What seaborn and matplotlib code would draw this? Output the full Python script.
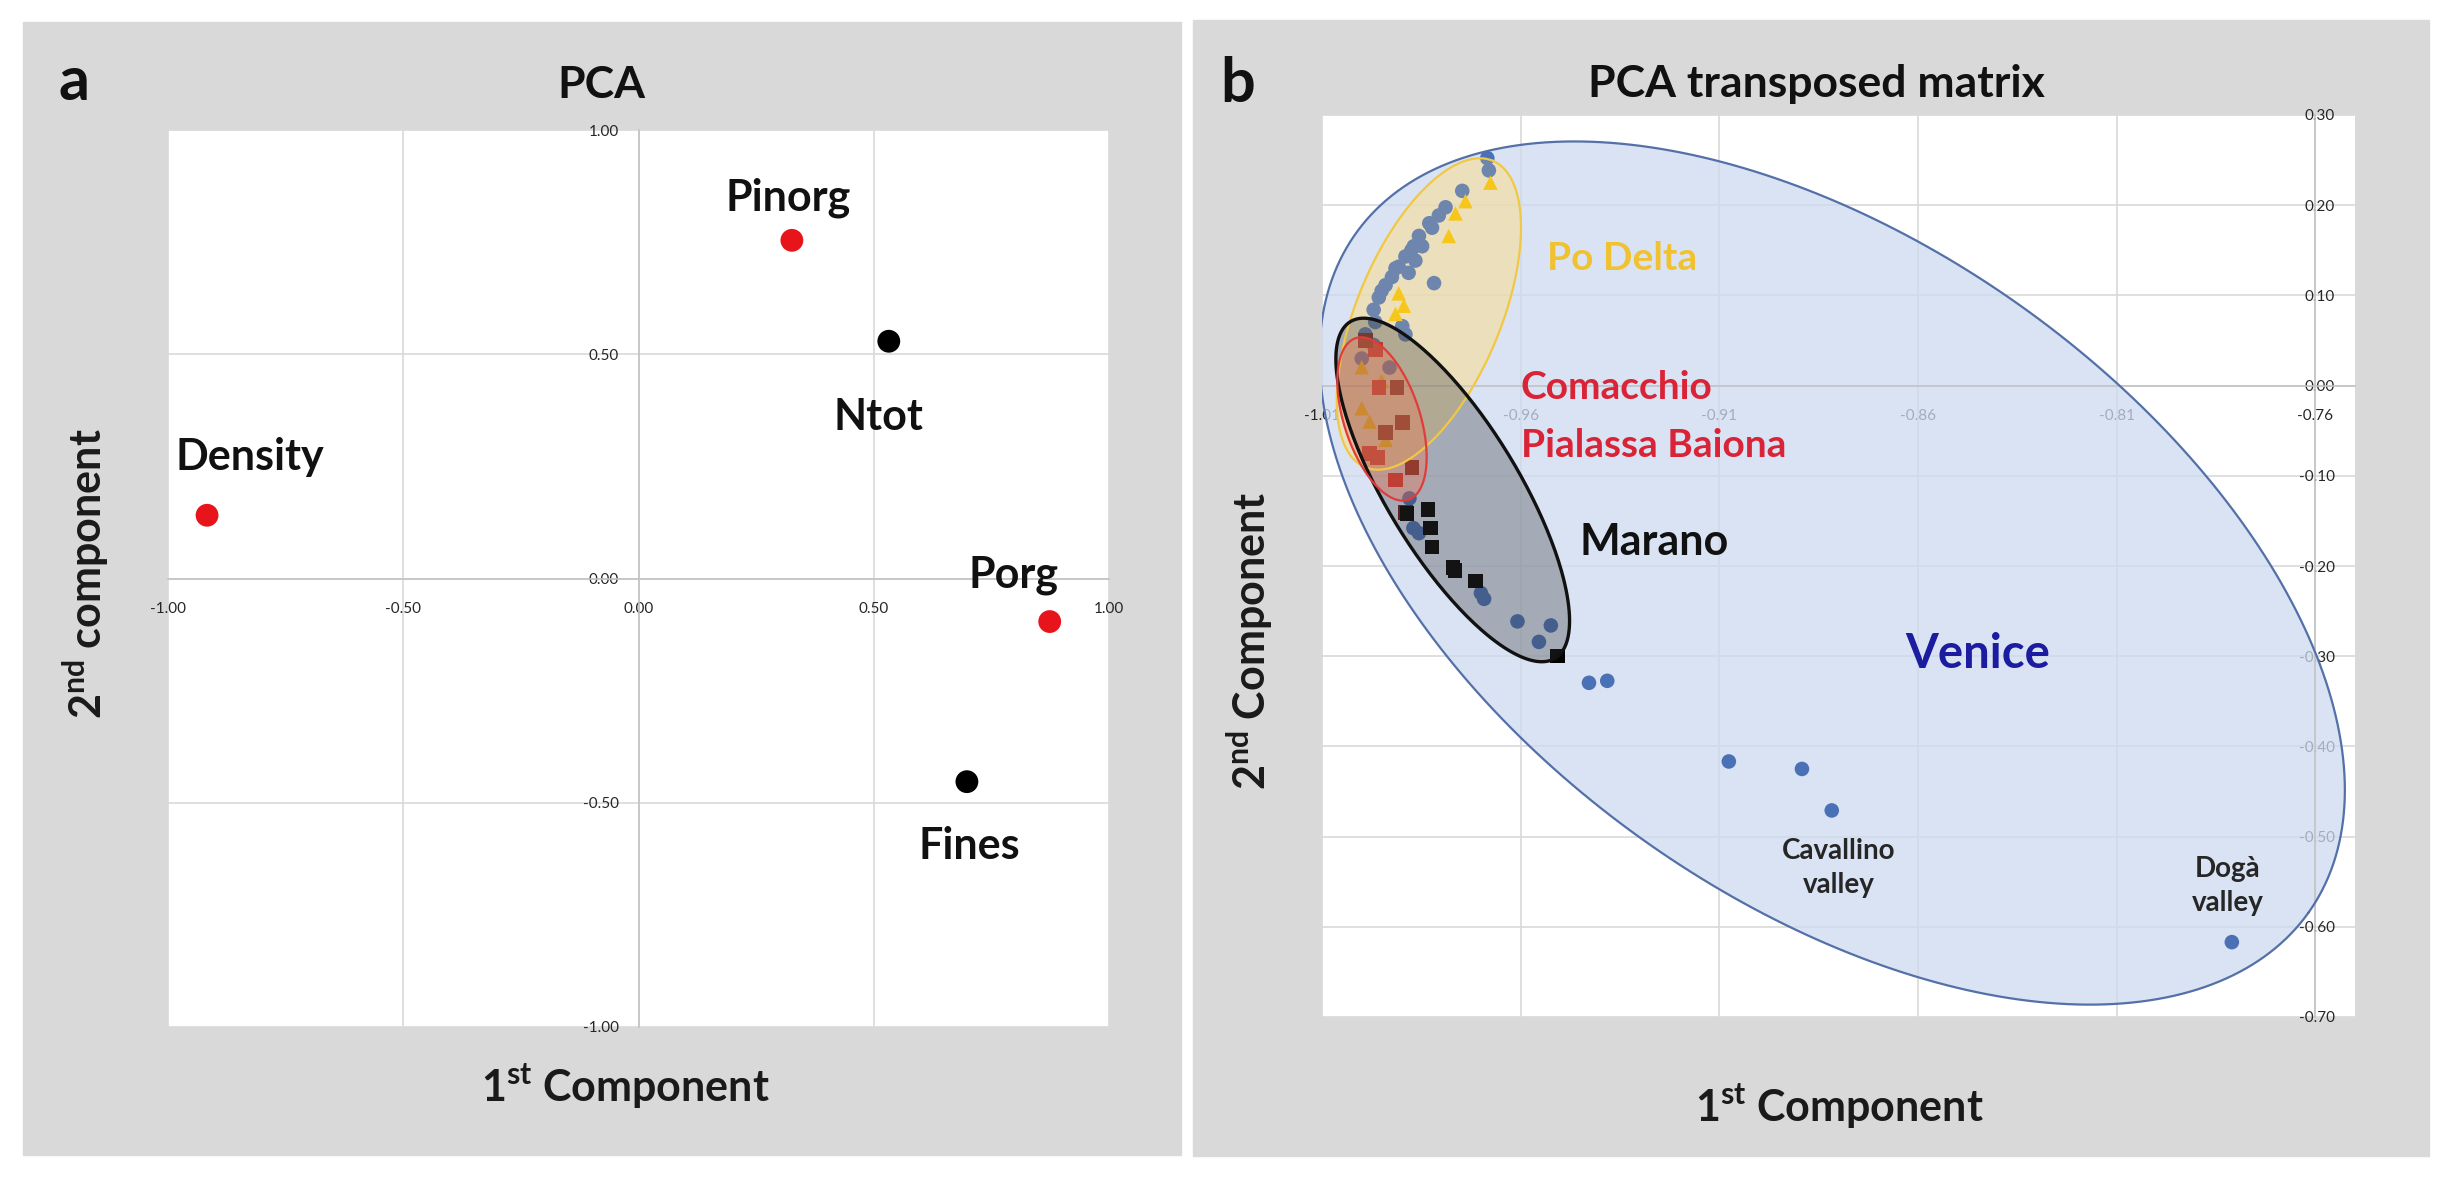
import numpy as np
import pandas as pd
import seaborn as sns
import matplotlib.pyplot as plt
from matplotlib.patches import Rectangle

# ---- panel a: PCA loadings ----
vars_a = ["Density", "Pinorg", "Ntot", "Porg", "Fines"]
pc1_a = [-0.917, 0.326, 0.532, 0.874, 0.698]
pc2_a = [0.141, 0.754, 0.529, -0.096, -0.453]
kind_a = ["red", "red", "black", "red", "black"]
lab_x_a = [-0.826, 0.318, 0.509, 0.798, 0.704]
lab_y_a = [0.271, 0.849, 0.360, 0.007, -0.596]
ticks_a = [-1.0, -0.5, 0.0, 0.5, 1.0]
ticklabels_a = ["-1.00", "-0.50", "0.00", "0.50", "1.00"]

# ---- panel b: PCA of transposed matrix ----
venice_x = [-0.9684, -0.9680, -0.9747, -0.9789, -0.9806, -0.9823, -0.9856, -0.9869,
            -0.9848, -0.9890, -0.9865, -0.9907, -0.9882, -0.9818, -0.9924, -0.9940,
            -0.9957, -0.9970, -0.9966, -0.9898, -0.9890, -0.9991, -1.0000, -0.9970,
            -0.9930, -0.9856, -0.9870, -0.9880, -0.9692, -0.9700, -0.9608, -0.9524,
            -0.9554, -0.9428, -0.9382, -0.9076, -0.8892, -0.8817, -0.7810,
            -0.9830, -0.9875, -0.9915, -0.9950]
venice_y = [0.2522, 0.2386, 0.2159, 0.1977, 0.1886, 0.1750, 0.1659, 0.1545,
            0.1545, 0.1432, 0.1386, 0.1318, 0.1250, 0.1136, 0.1204, 0.1114,
            0.0977, 0.0841, 0.0705, 0.0659, 0.0568, 0.0568, 0.0300, 0.0450,
            0.0200, -0.1636, -0.1580, -0.1250, -0.2364, -0.2300, -0.2614, -0.2659,
            -0.2841, -0.3295, -0.3273, -0.4167, -0.4250, -0.4710, -0.6170,
            0.1800, 0.1500, 0.1300, 0.1050]
podelta_x = [-0.9676, -0.9739, -0.9764, -0.9781, -0.9907, -0.9894, -0.9915,
             -1.0000, -0.9950, -1.0000, -0.9940, -0.9980]
podelta_y = [0.2250, 0.2045, 0.1909, 0.1659, 0.1023, 0.0886, 0.0795,
             0.0205, 0.0050, -0.0250, -0.0600, -0.0400]
comacchio_x = [-0.9966, -0.9957, -0.9980, -0.9915, -0.9960]
comacchio_y = [0.0400, -0.0023, -0.0750, -0.1045, -0.0800]
pialassa_x = [-0.9991, -0.9911, -0.9898, -0.9940, -0.9873, -0.9890]
pialassa_y = [0.0500, -0.0023, -0.0410, -0.0520, -0.0909, -0.1410]
marano_x = [-0.9886, -0.9833, -0.9827, -0.9823, -0.9770, -0.9765, -0.9714, -0.9507]
marano_y = [-0.1417, -0.1375, -0.1580, -0.1790, -0.2017, -0.2050, -0.2167, -0.3000]

xticks_b = [-1.01, -0.96, -0.91, -0.86, -0.81, -0.76]
xticklabels_b = ["-1.01", "-0.96", "-0.91", "-0.86", "-0.81", "-0.76"]
yticks_b = [0.3, 0.2, 0.1, 0.0, -0.1, -0.2, -0.3, -0.4, -0.5, -0.6, -0.7]
yticklabels_b = ["0.30", "0.20", "0.10", "0.00", "-0.10", "-0.20", "-0.30",
                 "-0.40", "-0.50", "-0.60", "-0.70"]

# group ellipses: centre in data units, semi axes in pixels, angle in degrees
# (fa = alpha of the fill under the points, ta = alpha of a tint over them)
ellipses = {
    "Venice": dict(c=(-0.8816, -0.2078), a=585, b=327, ang=-35.5,
                   fc="#cedaef", fa=0.75, ta=0, ec="#5470a8", lw=1.6),
    "Po Delta": dict(c=(-0.9831, 0.0794), a=166, b=72, ang=67.4,
                     fc="#ffe08a", fa=0.4, ta=0.2, ec="#f0c844", lw=1.6),
    "Marano": dict(c=(-0.9771, -0.1157), a=197, b=66, ang=-58.7,
                   fc="#3a3a3a", fa=0, ta=0.33, ec="#111111", lw=2.4),
    "Comacchio": dict(c=(-0.9949, -0.0370), a=85, b=38, ang=-72,
                      fc="#f07050", fa=0, ta=0.35, ec="#e03c3c", lw=1.6),
}

sns.set_theme(style="white")
plt.rcParams['font.family'] = ['Lato', 'DejaVu Sans']
plt.rcParams['mathtext.fontset'] = 'custom'
plt.rcParams['mathtext.rm'] = 'Lato'
plt.rcParams['mathtext.bf'] = 'Lato:bold'

W, H = 2451, 1183
fig = plt.figure(figsize=(W / 100, H / 100), dpi=100, facecolor="white")

# grey panel backgrounds
for (x0, y0, x1, y1) in [(23, 22, 1181, 1155), (1193, 20, 2429, 1156)]:
    fig.add_artist(Rectangle((x0 / W, 1 - y1 / H), (x1 - x0) / W, (y1 - y0) / H,
                             transform=fig.transFigure, color="#d9d9d9", zorder=0))

tick_font = dict(fontfamily="Liberation Serif", fontsize=15, color="#8a8a8a")
grid_kw = dict(color="#d9d9d9", lw=1.2)

# ---------------- panel a ----------------
ax = fig.add_axes([168 / W, 1 - 1027 / H, 941 / W, 897 / H])
df_a = pd.DataFrame({"pc1": pc1_a, "pc2": pc2_a, "kind": kind_a})
sns.scatterplot(data=df_a, x="pc1", y="pc2", hue="kind",
                palette={"red": "#e8141c", "black": "#000000"},
                s=270, edgecolor="none", legend=False, ax=ax, zorder=3)
for name, lx, ly in zip(vars_a, lab_x_a, lab_y_a):
    ax.text(lx, ly, name, ha="center", va="center", fontsize=31,
            fontweight="bold", color="#111111", zorder=5)
ax.set_xlim(-1, 1)
ax.set_ylim(-1, 1)
ax.set_xticks(ticks_a, ticklabels_a, **tick_font)
ax.set_yticks(ticks_a, ticklabels_a, **tick_font)
ax.grid(True, **grid_kw)
for s in ["top", "right"]:
    ax.spines[s].set_visible(False)
ax.spines["left"].set_position(("data", 0))
ax.spines["bottom"].set_position(("data", 0))
for s in ["left", "bottom"]:
    ax.spines[s].set_color("#c4c4c4")
    ax.spines[s].set_linewidth(1.2)
ax.tick_params(axis="x", length=0, pad=17)
ax.tick_params(axis="y", length=0, pad=14)
ax.set_xlabel(r"1$^{\mathbf{st}}$ Component", fontsize=31, fontweight="bold",
              color="#1a1a1a", va="center")
ax.set_ylabel(r"2$^{\mathbf{nd}}$ component", fontsize=31, fontweight="bold",
              color="#1a1a1a", va="center")
ax.xaxis.set_label_coords((625 - 168) / 941, (1027 - 1087) / 897)
ax.yaxis.set_label_coords((86 - 168) / 941, (1027 - 574) / 897)

# ---------------- panel b ----------------
bx = fig.add_axes([1322 / W, 1 - 1017 / H, 1033 / W, 902 / H])
xlim_b = (-1.01, -0.75)
ylim_b = (-0.70, 0.30)
bx.set_xlim(*xlim_b)
bx.set_ylim(*ylim_b)
sx = 1033 / (xlim_b[1] - xlim_b[0])
sy = 902 / (ylim_b[1] - ylim_b[0])

t = np.linspace(0, 2 * np.pi, 300)
for name, e in ellipses.items():
    th = np.deg2rad(e["ang"])
    u = e["a"] * np.cos(t)
    v = e["b"] * np.sin(t)
    ex = e["c"][0] + (u * np.cos(th) - v * np.sin(th)) / sx
    ey = e["c"][1] + (u * np.sin(th) + v * np.cos(th)) / sy
    if e["fa"] > 0:
        bx.fill(ex, ey, color=e["fc"], alpha=e["fa"], lw=0, zorder=1.5)
    if e["ta"] > 0:
        bx.fill(ex, ey, color=e["fc"], alpha=e["ta"], lw=0, zorder=4)
    bx.plot(ex, ey, color=e["ec"], lw=e["lw"], zorder=4.1)

df_b = pd.concat([
    pd.DataFrame({"pc1": venice_x, "pc2": venice_y, "site": "Venice"}),
    pd.DataFrame({"pc1": podelta_x, "pc2": podelta_y, "site": "Po Delta"}),
    pd.DataFrame({"pc1": comacchio_x, "pc2": comacchio_y, "site": "Comacchio"}),
    pd.DataFrame({"pc1": pialassa_x, "pc2": pialassa_y, "site": "Pialassa Baiona"}),
    pd.DataFrame({"pc1": marano_x, "pc2": marano_y, "site": "Marano"}),
], ignore_index=True)
sns.scatterplot(data=df_b, x="pc1", y="pc2", hue="site", style="site",
                palette={"Venice": "#4a70b6", "Po Delta": "#f5c000",
                         "Comacchio": "#d81e1e", "Pialassa Baiona": "#7a1414",
                         "Marano": "#000000"},
                markers={"Venice": "o", "Po Delta": "^", "Comacchio": "s",
                         "Pialassa Baiona": "s", "Marano": "s"},
                s=110, edgecolor="none", legend=False, ax=bx, zorder=3)

bx.text(-0.9344, 0.141, "Po Delta", ha="center", va="center", fontsize=28,
        fontweight="bold", color="#f0c232", zorder=6)
bx.text(-0.960, -0.002, "Comacchio", ha="left", va="center", fontsize=28,
        fontweight="bold", color="#d82436", zorder=6)
bx.text(-0.960, -0.066, "Pialassa Baiona", ha="left", va="center", fontsize=28,
        fontweight="bold", color="#d82436", zorder=6)
bx.text(-0.9453, -0.173, "Marano", ha="left", va="center", fontsize=31,
        fontweight="bold", color="#111111", zorder=6)
bx.text(-0.845, -0.298, "Venice", ha="center", va="center", fontsize=34,
        fontweight="bold", color="#1c1ca0", zorder=6)
bx.text(-0.880, -0.535, "Cavallino\nvalley", ha="center", va="center",
        fontsize=20, fontweight="bold", color="#262626", linespacing=1.4, zorder=6)
bx.text(-0.782, -0.555, "Dogà\nvalley", ha="center", va="center",
        fontsize=20, fontweight="bold", color="#262626", linespacing=1.4, zorder=6)

bx.set_xticks(xticks_b, xticklabels_b, **tick_font)
bx.set_yticks(yticks_b, yticklabels_b, **tick_font)
bx.grid(True, **grid_kw)
for s in ["top", "right"]:
    bx.spines[s].set_visible(False)
bx.spines["left"].set_position(("data", -0.76))
bx.spines["bottom"].set_position(("data", 0))
for s in ["left", "bottom"]:
    bx.spines[s].set_color("#c4c4c4")
    bx.spines[s].set_linewidth(1.2)
bx.tick_params(axis="x", length=0, pad=17)
bx.tick_params(axis="y", length=0, pad=-14)
bx.set_xlabel(r"1$^{\mathbf{st}}$ Component", fontsize=31, fontweight="bold",
              color="#1a1a1a", va="center")
bx.set_ylabel(r"2$^{\mathbf{nd}}$ Component", fontsize=31, fontweight="bold",
              color="#1a1a1a", va="center")
bx.xaxis.set_label_coords((1839 - 1322) / 1033, (1017 - 1107) / 902)
bx.yaxis.set_label_coords((1250 - 1322) / 1033, (1017 - 641) / 902)

# titles and panel letters
fig.text(601 / W, 1 - 98 / H, "PCA", ha="center", va="baseline",
         fontsize=32, fontweight="bold", color="#111111")
fig.text(1816 / W, 1 - 97 / H, "PCA transposed matrix", ha="center",
         va="baseline", fontsize=32, fontweight="bold", color="#111111")
fig.text(58 / W, 1 - 100 / H, "a", ha="left", va="baseline",
         fontsize=44, fontweight="bold", color="#111111")
fig.text(1220 / W, 1 - 102 / H, "b", ha="left", va="baseline",
         fontsize=44, fontweight="bold", color="#111111")

fig.savefig("out.png", dpi=100, facecolor="white")
